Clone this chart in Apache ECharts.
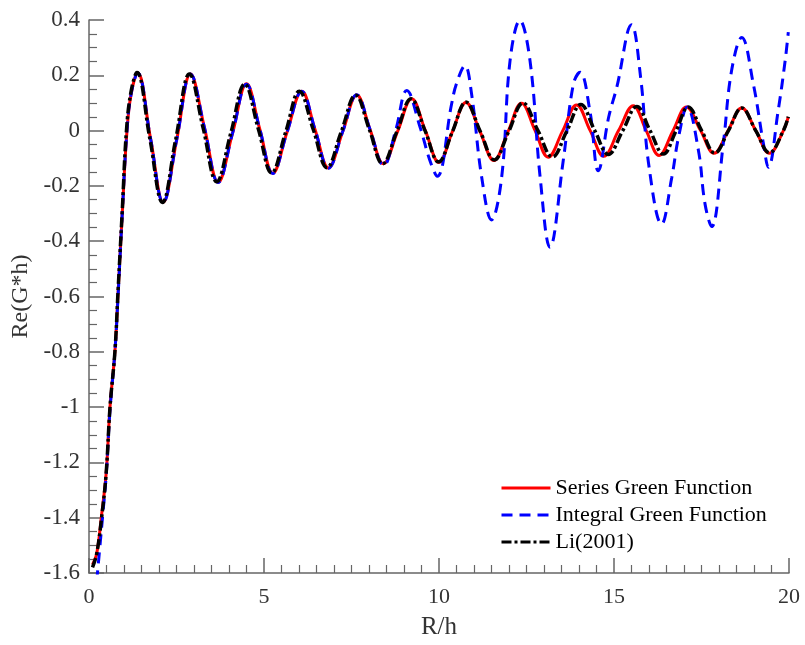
<!DOCTYPE html>
<html>
<head>
<meta charset="utf-8">
<script src="https://cdn.jsdelivr.net/npm/echarts@6/dist/echarts.min.js"></script>
<style>
html,body{margin:0;padding:0;background:#fff;}
#chart{width:805px;height:645px;}
</style>
</head>
<body>
<div id="chart"></div>
<script>
// Series Green Function (red, solid)
const seriesX = [0.1,0.22,0.36,0.49,0.6,0.74,0.83,0.95,1.08,1.2,1.39,1.76,2.12,2.51,2.9,3.3,3.69,4.1,4.5,4.88,5.25,5.66,6.08,6.46,6.84,7.25,7.65,8.03,8.41,8.82,9.22,9.61,10.0,10.38,10.77,11.17,11.57,11.97,12.36,12.74,13.12,13.53,13.93,14.32,14.71,15.13,15.55,15.92,16.29,16.68,17.07,17.47,17.86,18.26,18.65,19.05,19.44,19.84,19.98];
const seriesY = [-1.57,-1.53,-1.39,-1.24,-1.0,-0.8,-0.59,-0.3,-0.01,0.13,0.209,-0.03,-0.259,-0.03,0.205,0.01,-0.187,-0.01,0.169,0.005,-0.154,-0.005,0.142,0.003,-0.135,-0.003,0.129,0.004,-0.12,-0.002,0.115,0,-0.115,-0.005,0.102,-0.003,-0.108,-0.004,0.099,0.002,-0.096,-0.002,0.093,0,-0.093,0,0.09,0,-0.09,-0.002,0.085,0.001,-0.082,0,0.082,0,-0.082,0,0.05];

// Integral Green Function (blue, dashed)
const integralX = [0.22,0.3,0.4,0.49,0.6,0.74,0.83,0.95,1.08,1.2,1.39,1.76,2.12,2.51,2.9,3.3,3.69,4.1,4.5,4.88,5.25,5.66,6.08,6.46,6.84,7.25,7.65,8.03,8.42,8.76,9.08,9.46,9.74,9.95,10.36,10.5,10.74,10.93,11.22,11.5,11.79,12.03,12.31,12.6,12.89,13.17,13.55,13.84,14.03,14.31,14.55,14.85,15.08,15.5,15.76,16.0,16.36,16.65,16.85,17.09,17.41,17.6,17.79,18.12,18.36,18.65,18.98,19.27,19.41,19.69,19.89,19.98];
const integralY = [-1.63,-1.52,-1.38,-1.25,-1.01,-0.8,-0.6,-0.3,-0.01,0.13,0.208,-0.03,-0.26,-0.03,0.205,0.01,-0.188,-0.01,0.168,0.005,-0.155,-0.005,0.142,0.003,-0.136,-0.003,0.13,0.004,-0.126,0.0,0.145,0.012,-0.108,-0.165,0.096,0.17,0.235,0.133,-0.169,-0.323,-0.169,0.253,0.398,0.253,-0.169,-0.422,-0.108,0.169,0.211,0.072,-0.145,0.05,0.157,0.383,0.193,-0.13,-0.338,-0.17,-0.02,0.085,-0.07,-0.265,-0.347,-0.05,0.217,0.337,0.169,-0.048,-0.133,0.072,0.253,0.356];

// Li(2001) (black, dash-dot)
const liX = [0.1,0.22,0.36,0.49,0.6,0.74,0.83,0.95,1.07,1.2,1.37,1.74,2.1,2.48,2.87,3.26,3.65,4.05,4.45,4.84,5.22,5.62,6.01,6.41,6.8,7.21,7.62,8.01,8.39,8.8,9.2,9.6,9.99,10.38,10.77,11.18,11.58,11.99,12.4,12.82,13.24,13.65,14.05,14.45,14.84,15.25,15.65,16.03,16.41,16.77,17.12,17.5,17.88,18.27,18.65,19.05,19.44,19.84,19.98];
const liY = [-1.58,-1.53,-1.4,-1.24,-1.0,-0.8,-0.58,-0.29,0,0.14,0.21,-0.03,-0.26,-0.03,0.205,0.01,-0.185,-0.01,0.168,0.005,-0.153,-0.005,0.142,0.003,-0.134,-0.003,0.128,0.004,-0.12,-0.002,0.115,0,-0.113,-0.005,0.103,-0.003,-0.106,-0.004,0.1,0.002,-0.095,-0.002,0.094,0,-0.086,0,0.087,0,-0.085,-0.002,0.085,0.001,-0.081,0,0.082,0,-0.08,0,0.05];

const seriesNames = ['Series Green Function','Integral Green Function','Li(2001)'];
const xTicks = {min:0, max:20, interval:5};
const yTicks = {min:-1.6, max:0.4, interval:0.2};

function pairs(xs, ys){ return xs.map((x,i)=>[x, ys[i]]); }

const FONT = 'Liberation Serif';
const chart = echarts.init(document.getElementById('chart'), null, {renderer:'canvas'});
chart.setOption({
  backgroundColor:'#fff',
  animation:false,
  grid:{left:89, right:16, top:20, bottom:72, containLabel:false},
  legend:{
    orient:'vertical', left:495, top:472, itemWidth:49, itemHeight:14, itemGap:5,
    data:seriesNames.map(n=>({name:n})),
    itemStyle:{opacity:0},
    lineStyle:{width:3},
    textStyle:{fontFamily:FONT, fontSize:22, color:'#000'}
  },
  xAxis:{
    type:'value', min:xTicks.min, max:xTicks.max, interval:xTicks.interval,
    name:'R/h', nameLocation:'middle', nameGap:42,
    nameTextStyle:{fontFamily:FONT, fontSize:25, color:'#333'},
    axisLine:{show:true, onZero:false, lineStyle:{color:'#666', width:1.5}},
    axisTick:{show:true, inside:true, length:15, lineStyle:{color:'#666', width:1.5}},
    minorTick:{show:true, splitNumber:10, length:8, lineStyle:{color:'#666', width:1.2}},
    axisLabel:{fontFamily:FONT, fontSize:22, color:'#333', margin:13},
    splitLine:{show:false}
  },
  yAxis:{
    type:'value', min:yTicks.min, max:yTicks.max, interval:yTicks.interval,
    name:'Re(G*h)', nameLocation:'middle', nameGap:53,
    nameTextStyle:{fontFamily:FONT, fontSize:24, color:'#333'},
    axisLine:{show:true, onZero:false, lineStyle:{color:'#666', width:1.5}},
    axisTick:{show:true, inside:true, length:15, lineStyle:{color:'#666', width:1.5}},
    minorTick:{show:true, splitNumber:4, length:8, lineStyle:{color:'#666', width:1.2}},
    axisLabel:{fontFamily:FONT, fontSize:23, color:'#333', margin:9,
      formatter:v=>String(Math.round(v*10)/10)},
    splitLine:{show:false}
  },
  series:[
    {name:seriesNames[0], type:'line', data:pairs(seriesX, seriesY), smooth:0.4, symbol:'none', clip:true,
     lineStyle:{color:'#ff0000', width:3, type:'solid'}, itemStyle:{color:'#ff0000'}},
    {name:seriesNames[1], type:'line', data:pairs(integralX, integralY), smooth:0.4, symbol:'none', clip:true,
     lineStyle:{color:'#0000ff', width:3, type:[11,7]}, itemStyle:{color:'#0000ff'}},
    {name:seriesNames[2], type:'line', data:pairs(liX, liY), smooth:0.4, symbol:'none', clip:true,
     lineStyle:{color:'#000000', width:3.5, type:[10,3,3,3]}, itemStyle:{color:'#000000'}}
  ]
});
</script>
</body>
</html>
